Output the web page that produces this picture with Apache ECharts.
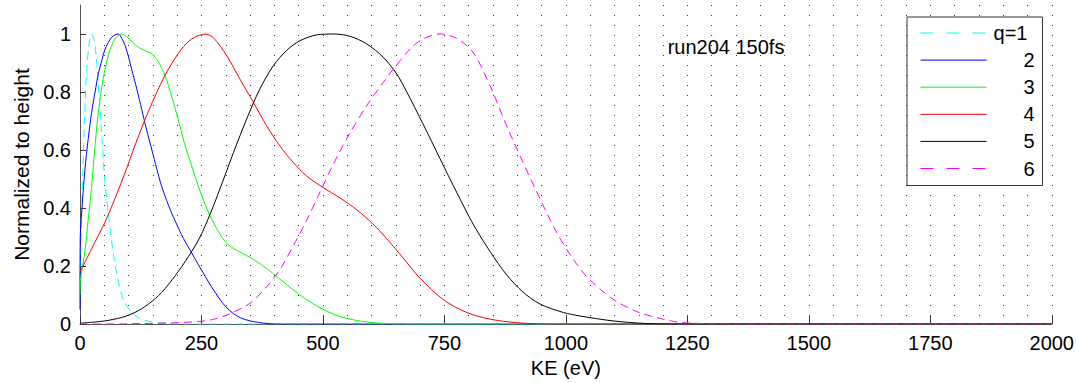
<!DOCTYPE html>
<html>
<head>
<meta charset="utf-8">
<script src="https://cdn.jsdelivr.net/npm/echarts@6/dist/echarts.min.js"></script>
<style>
html,body{margin:0;padding:0;background:#fff;}
#chart{width:1077px;height:383px;}
</style>
</head>
<body>
<div id="chart"></div>
<script>
// ---- data ----
const SERIES_NAMES = ['q=1', '2', '3', '4', '5', '6'];
const X_TICKS = [0, 250, 500, 750, 1000, 1250, 1500, 1750, 2000];
const Y_TICKS = [0, 0.2, 0.4, 0.6, 0.8, 1];
const ANNOTATION = 'run204 150fs';

const q1 = [[0,0.15],[3,0.36],[6,0.53],[9,0.7],[14,0.88],[19,0.97],[24,1.0],[29,0.98],[34,0.91],[38,0.82],[44,0.67],[51,0.5],[58,0.385],[68,0.25],[79,0.145],[92,0.075],[113,0.03],[140,0.01],[180,0.002],[250,0],[2000,0]];
const q2 = [[0,0.05],[0.5,0.3],[5,0.42],[10,0.53],[17,0.64],[24,0.73],[31,0.8],[38,0.865],[45,0.91],[51,0.945],[58,0.97],[65,0.988],[72,0.997],[79,1.0],[86,0.985],[93,0.96],[100,0.92],[106,0.88],[117,0.81],[127,0.74],[137,0.67],[148,0.6],[158,0.535],[168,0.475],[182,0.41],[196,0.355],[213,0.295],[230,0.245],[247,0.195],[260,0.158],[272,0.125],[288,0.085],[300,0.06],[315,0.037],[330,0.022],[350,0.011],[385,0.002],[420,0],[2000,0]];
const q3 = [[0,0.1],[1,0.15],[10,0.25],[17,0.36],[24,0.477],[34,0.67],[45,0.82],[58,0.925],[72,0.983],[86,1.0],[96,0.99],[106,0.975],[117,0.958],[127,0.948],[138,0.94],[148,0.932],[161,0.905],[175,0.856],[185,0.805],[196,0.743],[206,0.68],[216,0.617],[227,0.56],[237,0.508],[250,0.445],[267,0.375],[288,0.31],[300,0.282],[315,0.262],[335,0.243],[350,0.23],[367,0.212],[384,0.192],[418,0.146],[453,0.1],[487,0.063],[521,0.035],[556,0.017],[603,0.005],[658,0.001],[700,0],[2000,0]];
const q4 = [[0,0.18],[24,0.26],[51,0.35],[72,0.433],[93,0.523],[113,0.615],[137,0.718],[161,0.81],[182,0.879],[209,0.948],[230,0.983],[257,1.0],[274,0.988],[302,0.925],[329,0.845],[357,0.764],[384,0.684],[411,0.615],[439,0.557],[466,0.511],[500,0.471],[535,0.435],[569,0.395],[603,0.345],[631,0.295],[665,0.228],[700,0.158],[748,0.084],[796,0.04],[844,0.017],[898,0.005],[945,0.001],[1000,0],[2000,0]];
const q5 = [[0,0.003],[51,0.011],[86,0.023],[113,0.04],[141,0.069],[168,0.109],[196,0.167],[223,0.232],[247,0.3],[268,0.38],[288,0.466],[316,0.592],[343,0.707],[370,0.81],[398,0.891],[425,0.943],[453,0.977],[487,0.997],[523,1.0],[556,0.992],[590,0.966],[624,0.92],[652,0.862],[672,0.802],[706,0.69],[741,0.57],[775,0.455],[809,0.345],[844,0.25],[878,0.17],[912,0.11],[947,0.069],[995,0.04],[1029,0.028],[1097,0.011],[1166,0.002],[1250,0],[2000,0]];
const q6 = [[0,0],[100,0.001],[200,0.005],[250,0.01],[274,0.016],[309,0.036],[350,0.072],[384,0.128],[412,0.19],[439,0.27],[467,0.36],[494,0.455],[521,0.55],[556,0.66],[590,0.753],[624,0.833],[645,0.879],[679,0.948],[706,0.983],[741,1.0],[775,0.985],[809,0.937],[844,0.822],[878,0.684],[912,0.557],[947,0.431],[981,0.316],[1015,0.224],[1045,0.16],[1097,0.086],[1146,0.043],[1200,0.017],[1235,0.006],[1300,0.001],[1350,0],[2000,0]];

const SERIES_DATA = [q1, q2, q3, q4, q5, q6];
const COLORS = ['#00ffff', '#0000ff', '#00ff00', '#ff0000', '#000000', '#ff00ff'];
const DASHED = [true, false, false, false, false, true];

const FONT = "'Liberation Sans', Arial, Helvetica, sans-serif";

const chart = echarts.init(document.getElementById('chart'), null, {renderer: 'svg'});

const dotted = {color: '#333', width: 1, type: [1, 9]};

const option = {
  animation: false,
  backgroundColor: '#fff',
  textStyle: {fontFamily: FONT},
  grid: {left: 80, right: 25, top: 5, bottom: 58, containLabel: false},
  xAxis: {
    type: 'value',
    min: 0, max: 2000, interval: 250,
    name: 'KE (eV)', nameLocation: 'middle', nameGap: 32,
    nameTextStyle: {fontSize: 20, color: '#000', fontFamily: FONT},
    axisLine: {show: true, onZero: false, lineStyle: {color: '#555', width: 1}},
    axisTick: {show: true, inside: true, length: 8, lineStyle: {color: '#333'}, customValues: X_TICKS},
    axisLabel: {fontSize: 20, color: '#000', margin: 9, fontFamily: FONT, customValues: X_TICKS, formatter: v => String(v)},
    splitLine: {show: true, lineStyle: dotted},
    minorTick: {show: false, splitNumber: 5},
    minorSplitLine: {show: true, lineStyle: dotted}
  },
  yAxis: {
    type: 'value',
    min: 0, max: 1.1,
    name: 'Normalized to height', nameLocation: 'middle', nameGap: 48,
    nameTextStyle: {fontSize: 21, color: '#000', fontFamily: FONT},
    axisLine: {show: true, onZero: false, lineStyle: {color: '#555', width: 1}},
    axisTick: {show: true, inside: true, length: 6, lineStyle: {color: '#333'}, customValues: Y_TICKS},
    axisLabel: {fontSize: 20, color: '#000', margin: 9, fontFamily: FONT, customValues: Y_TICKS, formatter: v => String(v)},
    splitLine: {show: false}
  },
  legend: {
    orient: 'vertical',
    left: 907, top: 17,
    padding: [6, 8, 7, 13],
    itemWidth: 66, itemHeight: 14, itemGap: 7.1,
    backgroundColor: '#fff',
    borderColor: '#333', borderWidth: 1,
    data: SERIES_NAMES.map((n, i) => ({
      name: n,
      itemStyle: {opacity: 0},
      lineStyle: {color: COLORS[i], width: 1, type: DASHED[i] ? [13, 13] : 'solid', opacity: 1}
    })),
    formatter: n => (n === SERIES_NAMES[0] ? '{b|' + n + '}' : '{a|' + n + '}'),
    textStyle: {
      fontFamily: FONT, fontSize: 20, color: '#000',
      rich: {
        a: {width: 43, align: 'right', fontSize: 20, fontFamily: FONT},
        b: {width: 36, align: 'right', fontSize: 20, fontFamily: FONT}
      }
    }
  },
  graphic: [{
    type: 'text',
    x: 726, y: 47,
    style: {text: ANNOTATION, font: '20px ' + FONT, fill: '#000', align: 'center', verticalAlign: 'middle'}
  }],
  series: SERIES_NAMES.map((n, i) => ({
    name: n,
    type: 'line',
    data: SERIES_DATA[i],
    smooth: 0.3,
    symbol: 'none',
    clip: true,
    color: COLORS[i],
    lineStyle: {color: COLORS[i], width: 1, type: DASHED[i] ? [8, 5] : 'solid'}
  }))
};
chart.setOption(option);
</script>
</body>
</html>
